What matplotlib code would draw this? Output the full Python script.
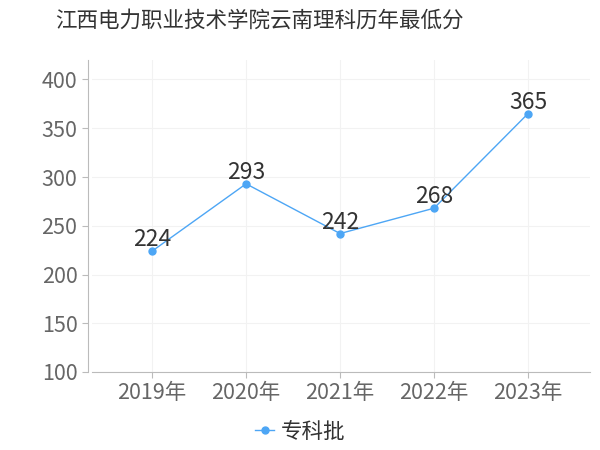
import matplotlib
matplotlib.use("Agg")
import matplotlib.pyplot as plt

plt.rcParams["font.family"] = ["Noto Sans CJK SC", "DejaVu Sans"]

years = ["2019年", "2020年", "2021年", "2022年", "2023年"]
scores = [224, 293, 242, 268, 365]
series_name = "专科批"
title = "江西电力职业技术学院云南理科历年最低分"

_LINE, _TICK, _LABEL, _GRID, _AXIS = "#4da6f5", "#666666", "#333333", "#f2f2f2", "#bbbbbb"

fig = plt.figure(figsize=(6, 4.5), dpi=100)
ax = fig.add_axes([92 / 600, 78 / 450, 498 / 600, 312 / 450])

x = list(range(len(years)))
ax.plot(x, scores, color=_LINE, linewidth=1, marker="o", markersize=5, label=series_name)
for xi, v in zip(x, scores):
    ax.annotate(str(v), xy=(xi, v), xytext=(0, 0), textcoords="offset points",
                ha="center", va="bottom", fontsize=16.5, color=_LABEL)

ax.set_xlim(-0.64, 4.66)
ax.set_ylim(100, 420)
ax.set_yticks(range(100, 401, 50))
ax.set_xticks(x)
ax.set_xticklabels(years)
ax.tick_params(axis="both", labelsize=15.5, labelcolor=_TICK, color=_AXIS, length=4)
ax.grid(color=_GRID, linewidth=0.8)
ax.set_axisbelow(True)

for s in ("top", "right"):
    ax.spines[s].set_visible(False)
ax.spines["left"].set_color(_AXIS)
ax.spines["bottom"].set_color(_AXIS)
ax.spines["left"].set_position(("outward", 3))

fig.text(0.433, 0.955, title, ha="center", va="center", fontsize=15.5,
         color=_LABEL)

leg = fig.legend(loc="center", bbox_to_anchor=(0.5, 0.04), frameon=False,
                 fontsize=15.5, handlelength=0.9, handletextpad=0.3)
for t in leg.get_texts():
    t.set_color(_LABEL)

fig.savefig("out.png", dpi=100, facecolor="white")
